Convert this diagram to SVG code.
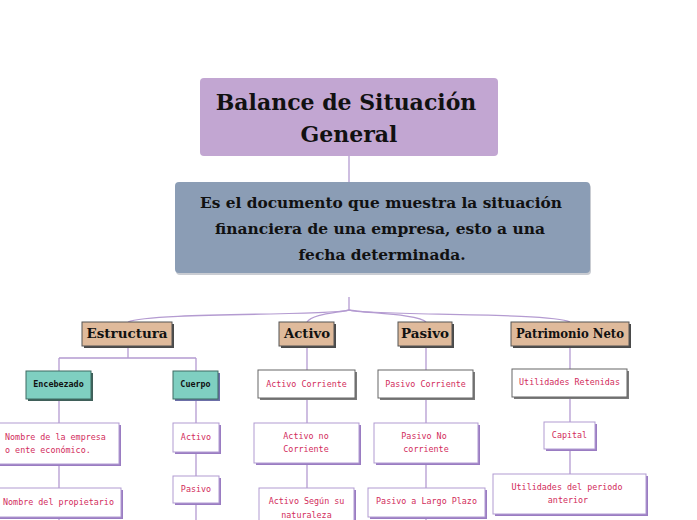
<svg xmlns="http://www.w3.org/2000/svg" width="697" height="520" viewBox="0 0 697 520">
<defs>
<style>
.ttl{font-family:"DejaVu Serif",serif;font-weight:bold;fill:#111;text-anchor:middle}
.l1{font-family:"DejaVu Serif",serif;font-weight:bold;font-size:13.5px;fill:#111;text-anchor:middle}
.mono{font-family:"DejaVu Sans Mono",monospace;font-size:8.4px;fill:#d22c5c;text-anchor:middle}
.monob{font-family:"DejaVu Sans Mono",monospace;font-size:8.4px;font-weight:bold;fill:#111;text-anchor:middle}
.tan{fill:#dfba9b;stroke:#555;stroke-width:1}
.tansh{fill:#4a4a4a}
.teal{fill:#7fcfc1;stroke:#3f6b63;stroke-width:1}
.tealsh{fill:#3f5f59}
.wd{fill:#fff;stroke:#666;stroke-width:1}
.wdsh{fill:#7a7a7a}
.wp{fill:#fff;stroke:#b19bd2;stroke-width:1}
.wpsh{fill:#9a7cc2}
.con{fill:none;stroke:#b49bd1;stroke-width:1.3}
</style>
</defs>
<rect width="697" height="520" fill="#fff"/>

<g id="connectors">
<path class="con" d="M349,156 V182"/>
<path class="con" d="M349,297 V310"/>
<path class="con" d="M349,310 C335,316 150,312 128,322"/>
<path class="con" d="M349,310 C335,313 312,314 307,322"/>
<path class="con" d="M349,310 C362,313 420,314 426,322"/>
<path class="con" d="M349,310 C365,316 550,312 570,322"/>
<path class="con" d="M128,347 V358 M59,358 H196 M59,358 V371 M196,358 V371"/>
<path class="con" d="M59,399 V423 M59,464 V488 M59,517 V520"/>
<path class="con" d="M196,399 V423 M196,452 V476 M196,503 V520"/>
<path class="con" d="M307,347 V370 M307,398 V423 M307,463 V488"/>
<path class="con" d="M426,347 V370 M426,398 V423 M426,463 V488 M426,517 V520"/>
<path class="con" d="M570,347 V369 M570,397 V422 M570,449 V474"/>
</g>

<g id="n-title">
<rect x="200" y="78" width="298" height="78" rx="4" fill="#c2a6d2"/>
<text class="ttl" font-size="22" x="346" y="110">Balance de Situación</text>
<text class="ttl" font-size="22" x="349" y="142">General</text>
</g>

<g id="n-desc">
<rect x="176" y="184" width="415" height="91" rx="4" fill="#c9ccd2"/>
<rect x="175" y="182" width="415" height="91" rx="4" fill="#8b9db5"/>
<text class="ttl" font-size="15" x="381" y="208" textLength="362" lengthAdjust="spacingAndGlyphs">Es el documento que muestra la situación</text>
<text class="ttl" font-size="15" x="380" y="234" textLength="330" lengthAdjust="spacingAndGlyphs">financiera de una empresa, esto a una</text>
<text class="ttl" font-size="15" x="382" y="260" textLength="167" lengthAdjust="spacingAndGlyphs">fecha determinada.</text>
</g>

<g id="n-estructura">
<rect class="tansh" x="84" y="324" width="90" height="24"/>
<rect class="tan" x="82" y="322" width="90" height="24"/>
<text class="l1" x="127" y="338" textLength="81" lengthAdjust="spacingAndGlyphs">Estructura</text>
</g>
<g id="n-activo">
<rect class="tansh" x="281" y="324" width="55" height="24"/>
<rect class="tan" x="279" y="322" width="55" height="24"/>
<text class="l1" x="307" y="338" textLength="46" lengthAdjust="spacingAndGlyphs">Activo</text>
</g>
<g id="n-pasivo">
<rect class="tansh" x="400" y="324" width="54" height="24"/>
<rect class="tan" x="398" y="322" width="54" height="24"/>
<text class="l1" x="425" y="338" textLength="48" lengthAdjust="spacingAndGlyphs">Pasivo</text>
</g>
<g id="n-patrimonio">
<rect class="tansh" x="513" y="324" width="118" height="24"/>
<rect class="tan" x="511" y="322" width="118" height="24"/>
<text class="l1" x="570" y="338" textLength="108" lengthAdjust="spacingAndGlyphs">Patrimonio Neto</text>
</g>

<g id="n-encebezado">
<rect class="tealsh" x="28" y="373" width="65" height="28"/>
<rect class="teal" x="26" y="371" width="65" height="28"/>
<text class="monob" x="58.5" y="387">Encebezado</text>
</g>
<g id="n-cuerpo">
<rect fill="#6c6fa8" x="175" y="373" width="45" height="28"/>
<rect class="teal" x="173" y="371" width="45" height="28"/>
<text class="monob" x="195.5" y="387">Cuerpo</text>
</g>

<g id="n-nombre-empresa">
<rect class="wpsh" x="-8" y="425" width="129" height="41"/>
<rect class="wp" x="-10" y="423" width="129" height="41"/>
<text class="mono" x="5" y="440" style="text-anchor:start">Nombre de la empresa</text>
<text class="mono" x="5" y="453" style="text-anchor:start">o ente económico.</text>
</g>
<g id="n-nombre-propietario">
<rect class="wpsh" x="-8" y="490" width="131" height="29"/>
<rect class="wp" x="-10" y="488" width="131" height="29"/>
<text class="mono" x="3" y="505" style="text-anchor:start">Nombre del propietario</text>
</g>

<g id="n-c-activo">
<rect class="wpsh" x="175" y="425" width="46" height="29"/>
<rect class="wp" x="173" y="423" width="46" height="29"/>
<text class="mono" x="196" y="440">Activo</text>
</g>
<g id="n-c-pasivo">
<rect class="wpsh" x="175" y="478" width="46" height="27"/>
<rect class="wp" x="173" y="476" width="46" height="27"/>
<text class="mono" x="196" y="492">Pasivo</text>
</g>

<g id="n-activo-corriente">
<rect class="wdsh" x="260" y="372" width="97" height="28"/>
<rect class="wd" x="258" y="370" width="97" height="28"/>
<text class="mono" x="306.5" y="387">Activo Corriente</text>
</g>
<g id="n-activo-no-corriente">
<rect class="wpsh" x="256" y="425" width="105" height="40"/>
<rect class="wp" x="254" y="423" width="105" height="40"/>
<text class="mono" x="306" y="439">Activo no</text>
<text class="mono" x="306" y="452">Corriente</text>
</g>
<g id="n-activo-segun">
<rect class="wpsh" x="261" y="490" width="95" height="40"/>
<rect class="wp" x="259" y="488" width="95" height="40"/>
<text class="mono" x="306.5" y="504">Activo Según su</text>
<text class="mono" x="306.5" y="518">naturaleza</text>
</g>

<g id="n-pasivo-corriente">
<rect class="wdsh" x="380" y="372" width="95" height="28"/>
<rect class="wd" x="378" y="370" width="95" height="28"/>
<text class="mono" x="425.5" y="387">Pasivo Corriente</text>
</g>
<g id="n-pasivo-no-corriente">
<rect class="wpsh" x="376" y="425" width="104" height="40"/>
<rect class="wp" x="374" y="423" width="104" height="40"/>
<text class="mono" x="424" y="439">Pasivo No</text>
<text class="mono" x="426" y="452">corriente</text>
</g>
<g id="n-pasivo-largo">
<rect class="wpsh" x="370" y="490" width="117" height="29"/>
<rect class="wp" x="368" y="488" width="117" height="29"/>
<text class="mono" x="426.5" y="504">Pasivo a Largo Plazo</text>
</g>

<g id="n-utilidades-retenidas">
<rect class="wdsh" x="514" y="371" width="115" height="28"/>
<rect class="wd" x="512" y="369" width="115" height="28"/>
<text class="mono" x="569.5" y="385">Utilidades Retenidas</text>
</g>
<g id="n-capital">
<rect class="wpsh" x="546" y="424" width="51" height="27"/>
<rect class="wp" x="544" y="422" width="51" height="27"/>
<text class="mono" x="569.5" y="438">Capital</text>
</g>
<g id="n-utilidades-periodo">
<rect class="wpsh" x="495" y="476" width="153" height="40"/>
<rect class="wp" x="493" y="474" width="153" height="40"/>
<text class="mono" x="567" y="490">Utilidades del periodo</text>
<text class="mono" x="568" y="503">anterior</text>
</g>
</svg>
